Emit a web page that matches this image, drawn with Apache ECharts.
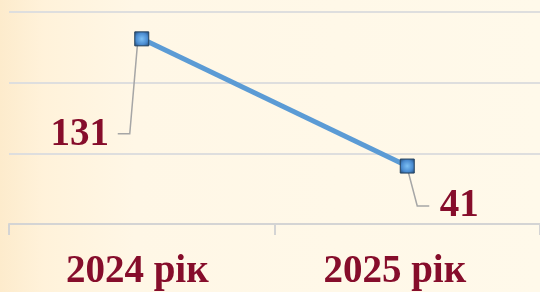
<!DOCTYPE html>
<html>
<head>
<meta charset="utf-8">
<script src="https://cdn.jsdelivr.net/npm/echarts@6/dist/echarts.min.js"></script>
<style>
  html, body { margin: 0; padding: 0; }
  body {
    width: 540px; height: 292px; overflow: hidden;
    background: linear-gradient(90deg, #fdebcc 0%, #fff2da 8%, #fff7e6 25%, #fff9ea 100%);
  }
  #chart { width: 540px; height: 292px; }
</style>
</head>
<body>
<div id="chart"></div>
<script>
const categories = ['2024 рік', '2025 рік'];
const values = [131, 41];
const yTicks = [0, 50, 100, 150];

// leader line bends (pixel offsets from each point) and label offsets
const leaderOffsets = [
  [[-4, 2], [-12, 95], [-24, 95]],
  [[0, 2], [10, 40], [22, 40]]
];
const labelOffsets = [[-62, 96], [52, 40]];

const chart = echarts.init(document.getElementById('chart'), null, { renderer: 'canvas' });

const labelColor = '#860d2b';
const labelFont = 'Liberation Serif';
const catStyle = {
  color: labelColor,
  fontFamily: labelFont,
  fontWeight: 'bold',
  fontSize: 39
};

chart.setOption({
  animation: false,
  grid: { left: 9, right: -1, top: 12, bottom: 68 },
  xAxis: {
    type: 'category',
    data: categories,
    boundaryGap: true,
    axisLine: { lineStyle: { color: '#d4d4d4', width: 2 } },
    axisTick: { show: true, length: 11, lineStyle: { color: '#d4d4d4', width: 2 } },
    axisLabel: {
      margin: 28,
      formatter: function (v, i) {
        return i === 0 ? '{a|' + v + '}' : '{b|' + v + '}';
      },
      rich: {
        a: Object.assign({ padding: [0, 9, 0, 0] }, catStyle),
        b: Object.assign({ padding: [0, 25, 0, 0] }, catStyle)
      }
    }
  },
  yAxis: {
    type: 'value',
    min: yTicks[0],
    max: yTicks[yTicks.length - 1],
    interval: 50,
    axisLine: { show: false },
    axisTick: { show: false },
    axisLabel: { show: false },
    splitLine: { lineStyle: { color: '#dedede', width: 2 } }
  },
  series: [
    {
      // leader lines from the points to the value labels
      type: 'custom',
      z: 1,
      silent: true,
      data: values.map((v, i) => [i, v]),
      encode: { x: 0, y: 1 },
      renderItem: function (params, api) {
        const p = api.coord([api.value(0), api.value(1)]);
        const offs = leaderOffsets[params.dataIndex];
        return {
          type: 'polyline',
          shape: { points: offs.map(o => [p[0] + o[0], p[1] + o[1]]) },
          style: { stroke: '#a6a6a6', lineWidth: 1.5, fill: null }
        };
      }
    },
    {
      type: 'line',
      z: 3,
      data: values,
      symbol: 'rect',
      symbolSize: 14,
      lineStyle: { color: '#5b9bd5', width: 5 },
      itemStyle: {
        color: {
          type: 'radial', x: 0.5, y: 0.5, r: 0.7,
          colorStops: [
            { offset: 0, color: '#7cc0f5' },
            { offset: 0.55, color: '#4a8bd0' },
            { offset: 1, color: '#1c3f66' }
          ]
        },
        borderColor: '#23405e',
        borderWidth: 1
      },
      label: {
        show: true,
        position: 'inside',
        color: labelColor,
        fontFamily: labelFont,
        fontWeight: 'bold',
        fontSize: 39
      },
      labelLayout: function (p) {
        const o = labelOffsets[p.dataIndex];
        return { dx: o[0], dy: o[1] };
      }
    }
  ]
});
</script>
</body>
</html>
